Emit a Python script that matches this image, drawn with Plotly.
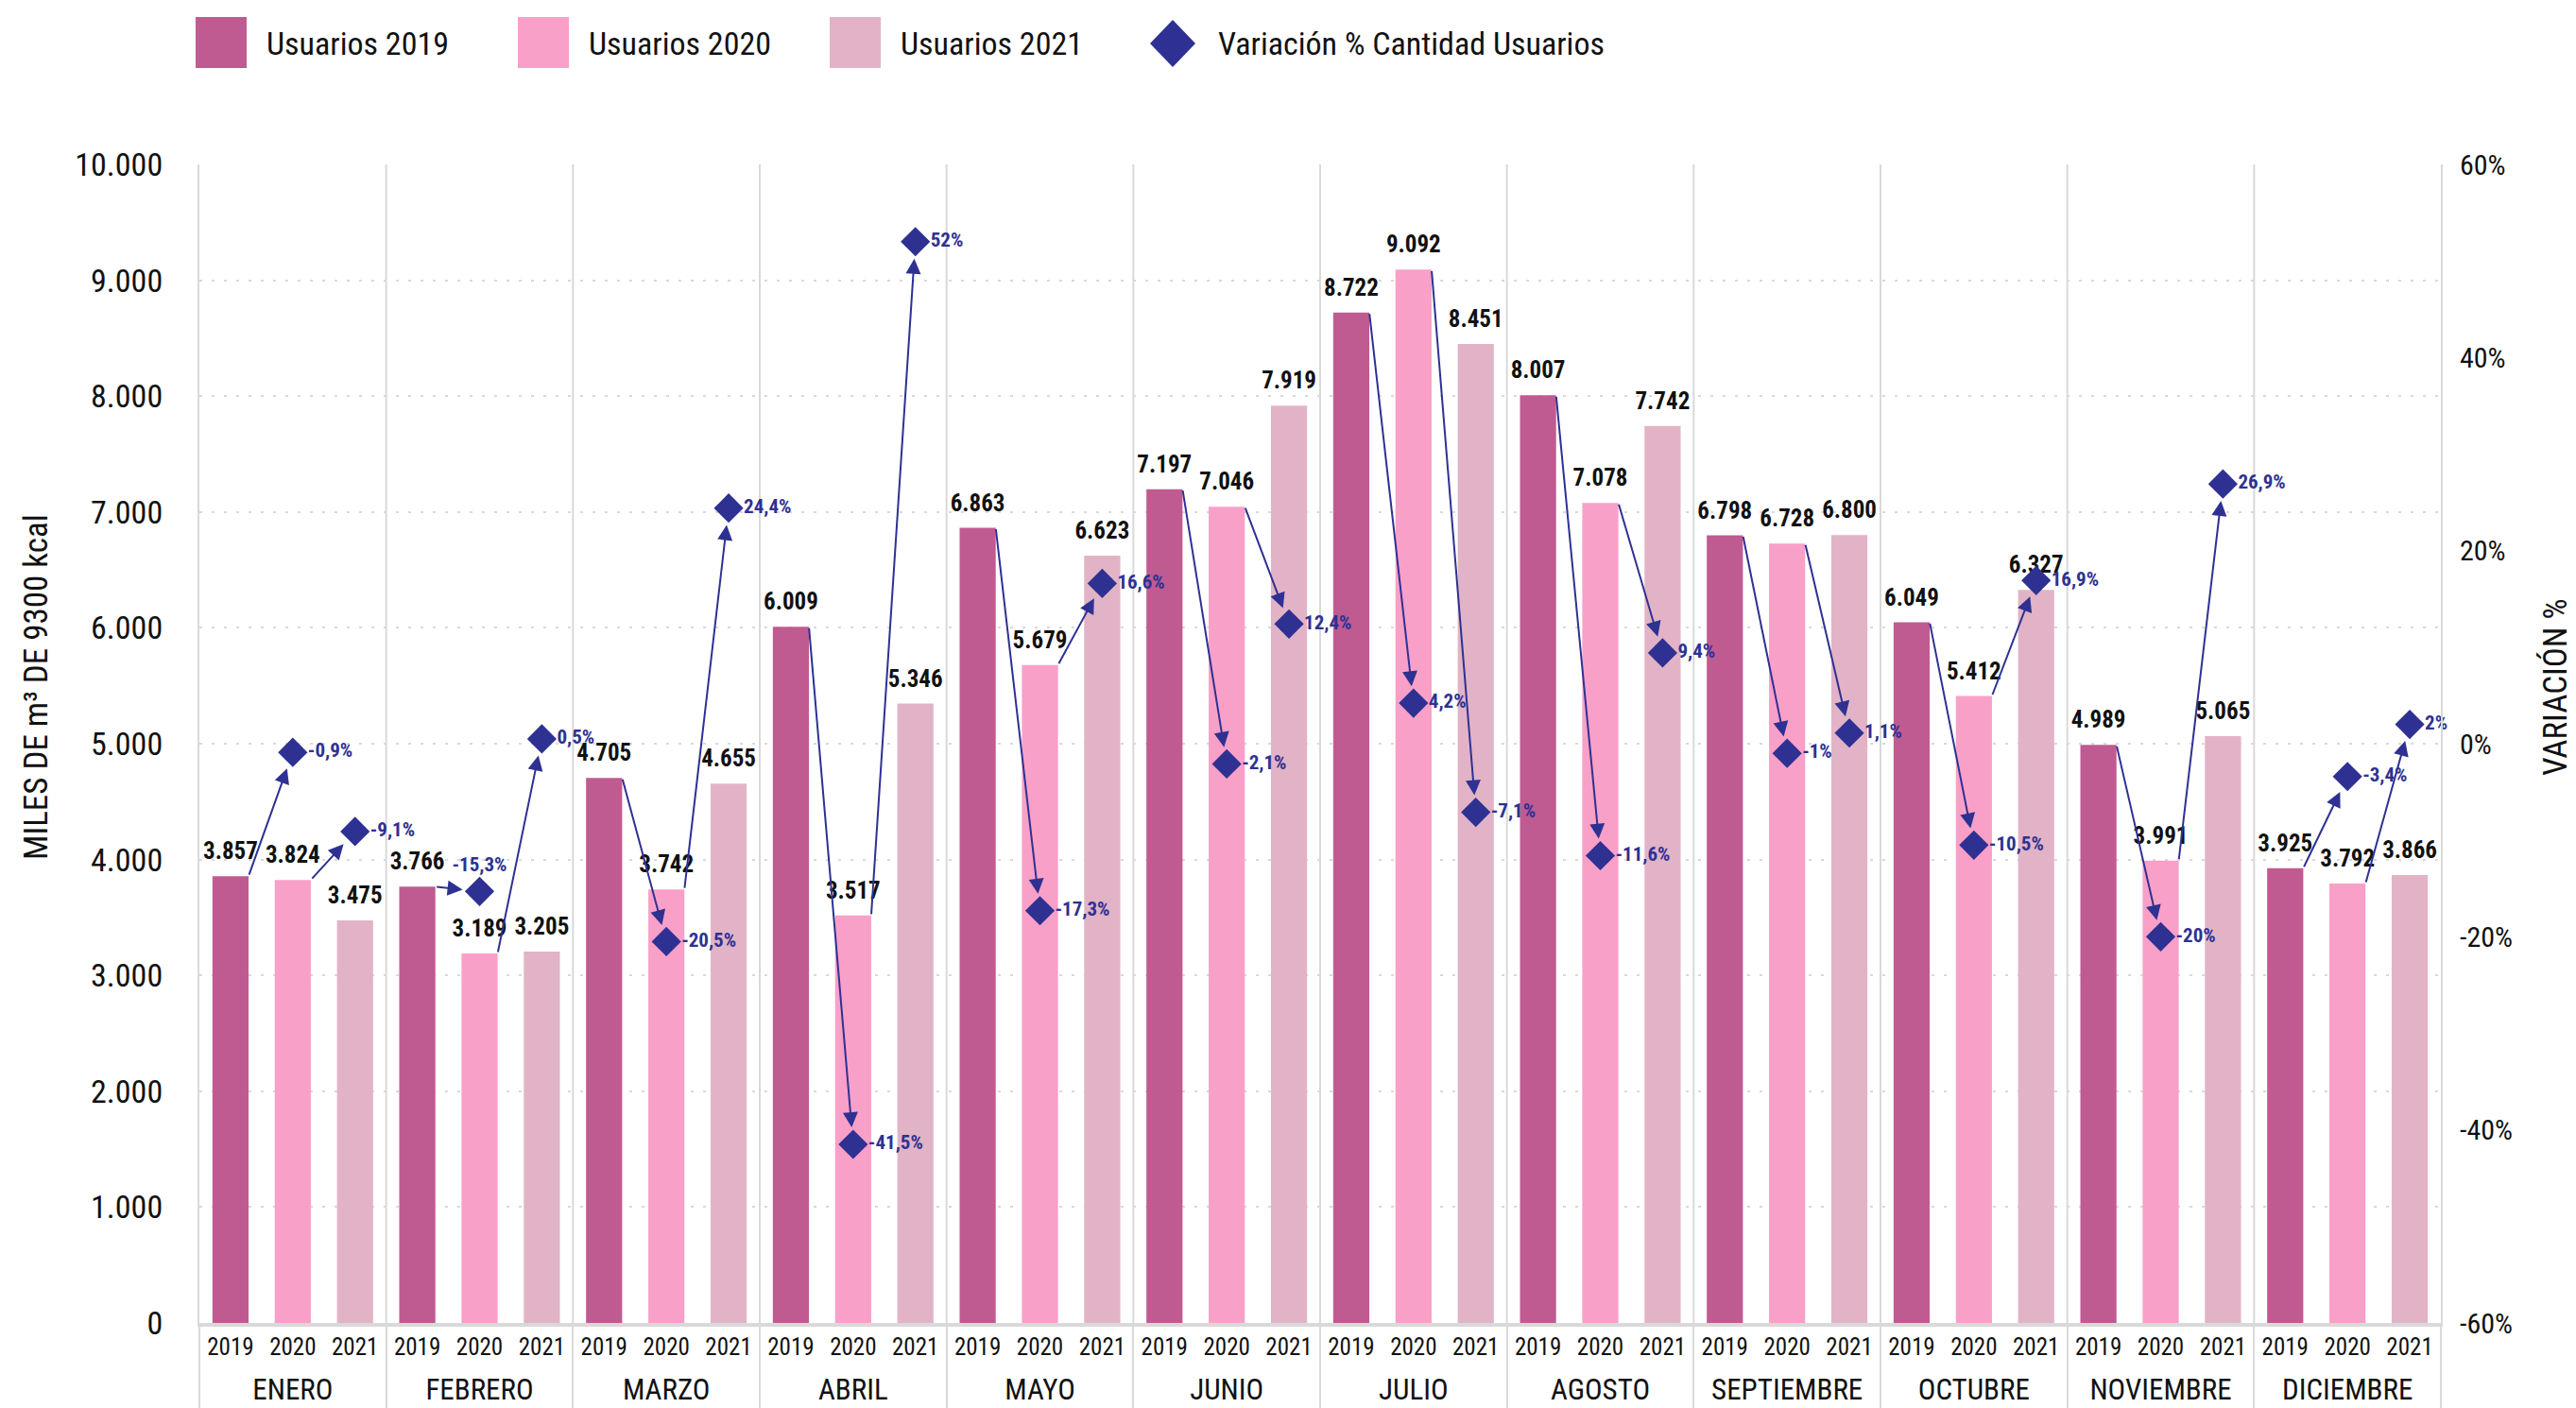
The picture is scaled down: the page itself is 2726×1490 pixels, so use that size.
import plotly.graph_objects as go

# ---------------- data ----------------
MONTHS = ["ENERO", "FEBRERO", "MARZO", "ABRIL", "MAYO", "JUNIO", "JULIO",
          "AGOSTO", "SEPTIEMBRE", "OCTUBRE", "NOVIEMBRE", "DICIEMBRE"]
YEARS = ["2019", "2020", "2021"]
USERS_2019 = [3857, 3766, 4705, 6009, 6863, 7197, 8722, 8007, 6798, 6049, 4989, 3925]
USERS_2020 = [3824, 3189, 3742, 3517, 5679, 7046, 9092, 7078, 6728, 5412, 3991, 3792]
USERS_2021 = [3475, 3205, 4655, 5346, 6623, 7919, 8451, 7742, 6800, 6327, 5065, 3866]
VAR_2020 = [-0.9, -15.3, -20.5, -41.5, -17.3, -2.1, 4.2, -11.6, -1.0, -10.5, -20.0, -3.4]
VAR_2021 = [-9.1, 0.5, 24.4, 52.0, 16.6, 12.4, -7.1, 9.4, 1.1, 16.9, 26.9, 2.0]
Y1_TICKS = [0, 1000, 2000, 3000, 4000, 5000, 6000, 7000, 8000, 9000, 10000]
Y2_TICKS = [-60, -40, -20, 0, 20, 40, 60]
Y2_TICKTEXT = ["-60%", "-40%", "-20%", "0%", "20%", "40%", "60%"]
SERIES_NAMES = ["Usuarios 2019", "Usuarios 2020", "Usuarios 2021"]
VAR_NAME = "Variación % Cantidad Usuarios"
Y1_TITLE = "MILES DE m³ DE 9300 kcal"
Y2_TITLE = "VARIACIÓN %"

# ---------------- style ----------------
# the page body adds an 8px offset, so the figure is laid out for the
# screen positions minus that offset
PAGE_OFF = 8
SCREEN_W, SCREEN_H = 2726, 1490
W, H = SCREEN_W - PAGE_OFF, SCREEN_H - PAGE_OFF
PLOT_L, PLOT_T, PLOT_R, PLOT_B = 211, 174, 2583, 1400   # screen pixels
M = dict(l=PLOT_L - PAGE_OFF, r=W - (PLOT_R - PAGE_OFF),
         t=PLOT_T - PAGE_OFF, b=H - (PLOT_B - PAGE_OFF), autoexpand=False)
FONT = "Roboto Condensed, Liberation Sans Narrow, Arial Narrow, DejaVu Sans Condensed, Roboto, sans-serif"
COLORS = ["#C05B91", "#F9A0C8", "#E2B3C6"]
NAVY = "#2E3192"
GRID = "#D9D9D9"
TXT = "#111111"
BARGAP = 0.42
Y1_RANGE = [0, 10000]
Y2_RANGE = [-60, 60]
# label placement per variation point
POS_2020 = ["middle right"] * 12
POS_2020[1] = "top center"
POS_2021 = ["middle right"] * 12

# month labels: 31px text, shifted a little lower (sub baseline shift)
MONTH_LABELS = ['<span style="font-size:78px"><sub><span style="font-size:31px">%s'
                '</span></sub></span>' % m for m in MONTHS]


def fmt_pct(v):
    return ("%g" % v).replace(".", ",") + "%"


def fmt_thousands(v):
    return "{:,}".format(v).replace(",", ".")


def y2_to_y1(v):
    f = (v - Y2_RANGE[0]) / (Y2_RANGE[1] - Y2_RANGE[0])
    return Y1_RANGE[0] + f * (Y1_RANGE[1] - Y1_RANGE[0])


fig = go.Figure()

for name, year, vals, col in zip(SERIES_NAMES, YEARS,
                                 [USERS_2019, USERS_2020, USERS_2021], COLORS):
    fig.add_trace(go.Bar(
        x=[MONTH_LABELS, [year] * len(MONTHS)], y=vals, name=name,
        marker=dict(color=col, line=dict(width=0)),
        showlegend=False, hoverinfo="y",
    ))

# value labels above bars (invisible anchor markers give the label offset)
for year, vals in zip(YEARS, [USERS_2019, USERS_2020, USERS_2021]):
    fig.add_trace(go.Scatter(
        x=[MONTH_LABELS, [year] * len(MONTHS)], y=vals, mode="markers+text",
        marker=dict(size=17, opacity=0), text=[fmt_thousands(v) for v in vals],
        textposition="top center",
        textfont=dict(family=FONT, size=25, color=TXT, weight=700),
        cliponaxis=False, showlegend=False, hoverinfo="skip",
    ))

vx0, vx1, vy, vt, vp = [], [], [], [], []
for i, m in enumerate(MONTH_LABELS):
    vx0 += [m, m]
    vx1 += ["2020", "2021"]
    vy += [VAR_2020[i], VAR_2021[i]]
    vt += [fmt_pct(VAR_2020[i]), fmt_pct(VAR_2021[i])]
    vp += [POS_2020[i], POS_2021[i]]

fig.add_trace(go.Scatter(
    x=[vx0, vx1], y=vy, yaxis="y2", name=VAR_NAME, mode="markers+text",
    marker=dict(symbol="diamond", size=24, color=NAVY),
    text=vt, textposition=vp,
    textfont=dict(family=FONT, size=21, color=NAVY, weight=700),
    cliponaxis=False, showlegend=False, hoverinfo="text",
))

# arrows from top-right corner of previous bar to the variation diamond
half = (1 - BARGAP) / 2
annotations = []
prev_series = [USERS_2019, USERS_2020]
var_series = [VAR_2020, VAR_2021]
n_years = len(YEARS)
for i in range(len(MONTHS)):
    for k in range(2):
        tail_idx = i * n_years + k
        head_idx = tail_idx + 1
        annotations.append(dict(
            x=head_idx, y=y2_to_y1(var_series[k][i]), xref="x", yref="y",
            ax=tail_idx + half, ay=prev_series[k][i], axref="x", ayref="y",
            text="", showarrow=True, arrowhead=2, arrowsize=1.6,
            arrowwidth=2, arrowcolor=NAVY, standoff=18,
        ))

# ---------- manual legend + axis titles (screen pixels converted to paper) ----------
PW = PLOT_R - PLOT_L
PH = PLOT_B - PLOT_T


def px(X):
    return (X - PLOT_L) / PW


def py(Y):
    return (PLOT_B - Y) / PH


shapes = []
LEG_SWATCH_X = [207, 548, 878]
LEG_TEXT_X = [280, 621, 951, 1287]
LEG_Y0, LEG_Y1, LEG_YC = 18, 72, 46
for xs, col in zip(LEG_SWATCH_X, COLORS):
    shapes.append(dict(type="rect", xref="paper", yref="paper",
                       x0=px(xs), x1=px(xs + 54), y0=py(LEG_Y1), y1=py(LEG_Y0),
                       fillcolor=col, line=dict(width=0)))
dcx, dhw, dhh = 1241, 24, 25
shapes.append(dict(type="path", xref="paper", yref="paper",
                   path="M %f,%f L %f,%f L %f,%f L %f,%f Z" % (
                       px(dcx - dhw), py(LEG_YC), px(dcx), py(LEG_YC - dhh),
                       px(dcx + dhw), py(LEG_YC), px(dcx), py(LEG_YC + dhh)),
                   fillcolor=NAVY, line=dict(width=0)))
for xt, label in zip(LEG_TEXT_X, SERIES_NAMES + [VAR_NAME]):
    annotations.append(dict(x=px(xt), y=py(LEG_YC), xref="paper", yref="paper",
                            text=label, showarrow=False, xanchor="left",
                            yanchor="middle",
                            font=dict(family=FONT, size=34, color=TXT)))

TITLE_YC = 727
annotations.append(dict(x=px(38), y=py(TITLE_YC), xref="paper", yref="paper",
                        text=Y1_TITLE, textangle=-90, showarrow=False,
                        xanchor="center", yanchor="middle",
                        font=dict(family=FONT, size=35, color=TXT)))
annotations.append(dict(x=px(2704), y=py(TITLE_YC), xref="paper", yref="paper",
                        text=Y2_TITLE, textangle=-90, showarrow=False,
                        xanchor="center", yanchor="middle",
                        font=dict(family=FONT, size=35, color=TXT)))

# vertical month separators inside the plot
for g in range(1, len(MONTHS)):
    shapes.append(dict(type="line", xref="paper", yref="paper",
                       x0=g / len(MONTHS), x1=g / len(MONTHS), y0=0, y1=1,
                       line=dict(color=GRID, width=2), layer="below"))

fig.update_layout(
    width=W, height=H, margin=M, autosize=False,
    paper_bgcolor="white", plot_bgcolor="white",
    barmode="overlay", bargap=BARGAP, separators=",.",
    font=dict(family=FONT, color=TXT),
    showlegend=False,
    shapes=shapes, annotations=annotations,
    xaxis=dict(type="multicategory", range=[-0.5, len(MONTHS) * n_years - 0.5],
               automargin=False,
               showdividers=True, dividercolor=GRID, dividerwidth=2,
               showline=True, linecolor=GRID, linewidth=4, showgrid=False,
               ticks="", tickfont=dict(family=FONT, size=25, color=TXT)),
    yaxis=dict(range=Y1_RANGE, tickvals=Y1_TICKS, tickformat=",d",
               automargin=False,
               showgrid=True, gridcolor=GRID, gridwidth=2, griddash="3px,10px",
               showline=True, linecolor=GRID, linewidth=2, zeroline=False,
               ticks="", ticklabelstandoff=30,
               tickfont=dict(family=FONT, size=34, color=TXT)),
    yaxis2=dict(range=Y2_RANGE, tickvals=Y2_TICKS, ticktext=Y2_TICKTEXT,
                automargin=False,
                overlaying="y", side="right", showgrid=False, zeroline=False,
                showline=True, linecolor=GRID, linewidth=2,
                ticks="", ticklabelstandoff=12,
                tickfont=dict(family=FONT, size=30, color=TXT)),
)

fig.write_html("out.html")
